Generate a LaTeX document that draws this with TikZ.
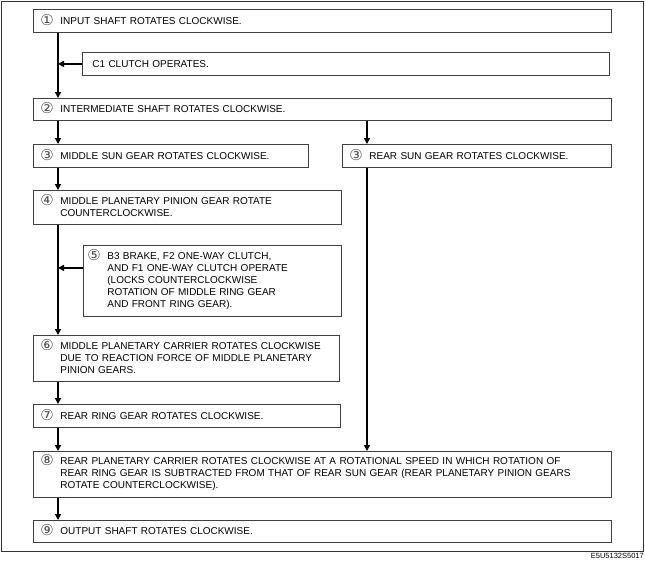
\documentclass[tikz,border=0pt]{standalone}
\usepackage{fontspec}
\setmainfont{Liberation Sans}
\newfontfamily\circfont{DejaVu Sans}
\usetikzlibrary{arrows.meta}

\newlength{\numw}
\setlength{\numw}{20pt}
\newcommand{\stepno}[1]{\makebox[\numw][l]{\smash{\raisebox{-1pt}{\fontsize{15}{15}\selectfont\circfont\color{black!70}#1}}}}
\newcommand{\contind}{\hspace*{\numw}}

\begin{document}
\begin{tikzpicture}[x=1pt, y=-1pt, font=\fontsize{10}{12}\selectfont]
        \tikzstyle{box} = [rectangle, draw=black!75, line width=0.8pt, anchor=north west, align=left, inner xsep=7pt, inner ysep=0pt]
        \tikzstyle{arrow} = [line width=1.8pt, -{Triangle[length=6pt,width=6pt]}]

        \useasboundingbox (0,0) rectangle (645,570);
        \draw [black!80, line width=0.8pt] (1,1) rectangle (643,551);

        \coordinate (lx) at (58,0);
        \coordinate (rx) at (367,0);

        \node (inp) [box, text width=564pt, minimum height=23pt] at (33,9) {\stepno{①}INPUT SHAFT ROTATES CLOCKWISE.};
        \node (c1) [box, inner xsep=10pt, text width=507pt, minimum height=23pt] at (82,52) {C1 CLUTCH OPERATES.};
        \node (mid) [box, text width=564pt, minimum height=22pt] at (33,98) {\stepno{②}INTERMEDIATE SHAFT ROTATES CLOCKWISE.};
        \node (msun) [box, text width=261pt, minimum height=23pt] at (33,144) {\stepno{③}MIDDLE SUN GEAR ROTATES CLOCKWISE.};
        \node (rsun) [box, text width=255pt, minimum height=23pt] at (342,144) {\stepno{③}REAR SUN GEAR ROTATES CLOCKWISE.};
        \node (pin) [box, text width=294pt, minimum height=34pt] at (33,190) {\stepno{④}MIDDLE PLANETARY PINION GEAR ROTATE\\\contind COUNTERCLOCKWISE.};
        \node (brk) [box, inner xsep=4pt, text width=250pt, minimum height=71pt] at (83,245) {\stepno{⑤}B3 BRAKE, F2 ONE-WAY CLUTCH,\\\contind AND F1 ONE-WAY CLUTCH OPERATE\\\contind (LOCKS COUNTERCLOCKWISE\\\contind ROTATION OF MIDDLE RING GEAR\\\contind AND FRONT RING GEAR).};
        \node (car) [box, text width=292pt, minimum height=46pt] at (33,335) {\stepno{⑥}MIDDLE PLANETARY CARRIER ROTATES CLOCKWISE\\\contind DUE TO REACTION FORCE OF MIDDLE PLANETARY\\\contind PINION GEARS.};
        \node (rring) [box, text width=293pt, minimum height=23pt] at (33,404) {\stepno{⑦}REAR RING GEAR ROTATES CLOCKWISE.};
        \node (rcar) [box, text width=564pt, minimum height=46pt] at (33,451) {\stepno{⑧}REAR PLANETARY CARRIER ROTATES CLOCKWISE AT A ROTATIONAL SPEED IN WHICH ROTATION OF\\\contind REAR RING GEAR IS SUBTRACTED FROM THAT OF REAR SUN GEAR (REAR PLANETARY PINION GEARS\\\contind ROTATE COUNTERCLOCKWISE).};
        \node (outp) [box, text width=564pt, minimum height=22pt] at (33,520) {\stepno{⑨}OUTPUT SHAFT ROTATES CLOCKWISE.};

        \node (code) [anchor=east, inner sep=0pt, font=\fontsize{7.5}{8}\selectfont] at (644,556) {E5U5132S5017};

        \draw [arrow] (inp.south -| lx) -- (mid.north -| lx);
        \draw [arrow] (c1.west) -- (c1.west -| lx);
        \draw [arrow] (mid.south -| lx) -- (msun.north -| lx);
        \draw [arrow] (mid.south -| rx) -- (rsun.north -| rx);
        \draw [arrow] (msun.south -| lx) -- (pin.north -| lx);
        \draw [arrow] (pin.south -| lx) -- (car.north -| lx);
        \draw [arrow] ([yshift=13pt]brk.west) -- ([yshift=13pt]brk.west -| lx);
        \draw [arrow] (car.south -| lx) -- (rring.north -| lx);
        \draw [arrow] (rring.south -| lx) -- (rcar.north -| lx);
        \draw [arrow] (rsun.south -| rx) -- (rcar.north -| rx);
        \draw [arrow] (rcar.south -| lx) -- (outp.north -| lx);
    \end{tikzpicture}
\end{document}
